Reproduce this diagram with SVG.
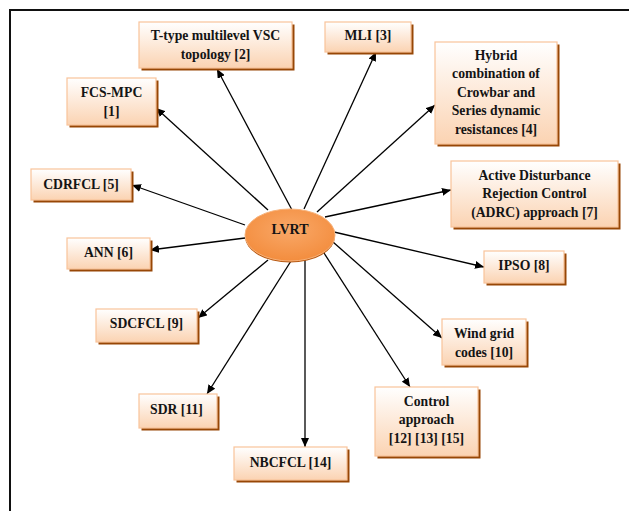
<svg xmlns="http://www.w3.org/2000/svg" width="629" height="511" viewBox="0 0 629 511">
<defs>
<linearGradient id="boxg" x1="0" y1="0" x2="0" y2="1">
<stop offset="0" stop-color="#ffffff"/>
<stop offset="1" stop-color="#fbd3b2"/>
</linearGradient>
<radialGradient id="ellg" cx="0.5" cy="0.4" r="0.6">
<stop offset="0" stop-color="#f9a868"/>
<stop offset="1" stop-color="#f38d3e"/>
</radialGradient>
<marker id="arr" markerUnits="userSpaceOnUse" markerWidth="10" markerHeight="8" refX="9" refY="4" orient="auto">
<path d="M0,0 L9,4 L0,8 z" fill="#000"/>
</marker>
<style>
.sh{fill:#974706}
.bx{fill:url(#boxg);stroke:#f9c39a;stroke-width:1.2}
.t{font-family:"Liberation Serif","Times New Roman",serif;font-weight:bold;font-size:13.7px;fill:#141414;text-anchor:middle}
.c{stroke:#000;stroke-width:1.3;fill:none;marker-end:url(#arr)}
</style>
</defs>
<rect width="629" height="511" fill="#fff"/>
<path d="M10,511 L10,10 L629,10" fill="none" stroke="#111" stroke-width="2"/>

<g id="connectors">
<line class="c" x1="292" y1="210" x2="217" y2="69"/>
<line class="c" x1="268" y1="210" x2="156" y2="108"/>
<line class="c" x1="245" y1="225" x2="132" y2="185"/>
<line class="c" x1="245" y1="238" x2="150" y2="250"/>
<line class="c" x1="268" y1="260" x2="198" y2="318"/>
<line class="c" x1="291" y1="261" x2="207" y2="394"/>
<line class="c" x1="305" y1="259" x2="305" y2="447"/>
<line class="c" x1="304" y1="209" x2="376" y2="52"/>
<line class="c" x1="317" y1="212" x2="435" y2="105"/>
<line class="c" x1="325" y1="217" x2="451" y2="190"/>
<line class="c" x1="334" y1="232" x2="484" y2="267"/>
<line class="c" x1="333" y1="242" x2="442" y2="338"/>
<line class="c" x1="324" y1="253" x2="410" y2="387"/>
</g>

<g id="lvrt">
<ellipse cx="290" cy="236.5" rx="45" ry="26" fill="#b85a14"/>
<ellipse cx="290" cy="235" rx="45" ry="26" fill="url(#ellg)" stroke="#f7b27a" stroke-width="1"/>
<text class="t" x="290" y="234" style="font-size:14px">LVRT</text>
</g>

<g id="n2">
<rect class="sh" x="141.5" y="24.5" width="153" height="46"/>
<rect class="bx" x="139" y="22" width="153" height="46"/>
<text class="t" x="215.5" y="39.5">T-type multilevel VSC</text>
<text class="t" x="215.5" y="58.5">topology [2]</text>
</g>

<g id="n1">
<rect class="sh" x="69.5" y="80.5" width="89" height="47"/>
<rect class="bx" x="67" y="78" width="89" height="47"/>
<text class="t" x="111.5" y="96.5">FCS-MPC</text>
<text class="t" x="111.5" y="116">[1]</text>
</g>

<g id="n3">
<rect class="sh" x="327.5" y="24.5" width="86" height="30"/>
<rect class="bx" x="325" y="22" width="86" height="30"/>
<text class="t" x="368" y="40">MLI [3]</text>
</g>

<g id="n4">
<rect class="sh" x="437.5" y="44.5" width="122" height="102"/>
<rect class="bx" x="435" y="42" width="122" height="102"/>
<text class="t" x="496" y="59.5">Hybrid</text>
<text class="t" x="496" y="78">combination of</text>
<text class="t" x="496" y="96.5">Crowbar and</text>
<text class="t" x="496" y="115">Series dynamic</text>
<text class="t" x="496" y="133.5">resistances [4]</text>
</g>

<g id="n5">
<rect class="sh" x="33.5" y="171.5" width="100" height="31"/>
<rect class="bx" x="31" y="169" width="100" height="31"/>
<text class="t" x="81" y="188.5">CDRFCL [5]</text>
</g>

<g id="n7">
<rect class="sh" x="453.5" y="163.5" width="167" height="66"/>
<rect class="bx" x="451" y="161" width="167" height="66"/>
<text class="t" x="534.5" y="179.5">Active Disturbance</text>
<text class="t" x="534.5" y="198">Rejection Control</text>
<text class="t" x="534.5" y="216.5">(ADRC) approach [7]</text>
</g>

<g id="n6">
<rect class="sh" x="69.5" y="240.5" width="83" height="31"/>
<rect class="bx" x="67" y="238" width="83" height="31"/>
<text class="t" x="108.5" y="257">ANN [6]</text>
</g>

<g id="n8">
<rect class="sh" x="486.5" y="253.5" width="80" height="32"/>
<rect class="bx" x="484" y="251" width="80" height="32"/>
<text class="t" x="524" y="270">IPSO [8]</text>
</g>

<g id="n9">
<rect class="sh" x="98.5" y="311.5" width="101" height="33"/>
<rect class="bx" x="96" y="309" width="101" height="33"/>
<text class="t" x="146.5" y="328">SDCFCL [9]</text>
</g>

<g id="n10">
<rect class="sh" x="444.5" y="321.5" width="84" height="46"/>
<rect class="bx" x="442" y="319" width="84" height="46"/>
<text class="t" x="484" y="337.5">Wind grid</text>
<text class="t" x="484" y="356.5">codes [10]</text>
</g>

<g id="n11">
<rect class="sh" x="141.5" y="396.5" width="78" height="34"/>
<rect class="bx" x="139" y="394" width="78" height="34"/>
<text class="t" x="176.5" y="414">SDR [11]</text>
</g>

<g id="n12">
<rect class="sh" x="377.5" y="389.5" width="103" height="69"/>
<rect class="bx" x="375" y="387" width="103" height="69"/>
<text class="t" x="426.5" y="405.5">Control</text>
<text class="t" x="426.5" y="424">approach</text>
<text class="t" x="426.5" y="442.5">[12] [13] [15]</text>
</g>

<g id="n14">
<rect class="sh" x="236.5" y="449.5" width="113" height="33"/>
<rect class="bx" x="234" y="447" width="113" height="33"/>
<text class="t" x="290.5" y="466.5">NBCFCL [14]</text>
</g>
</svg>
